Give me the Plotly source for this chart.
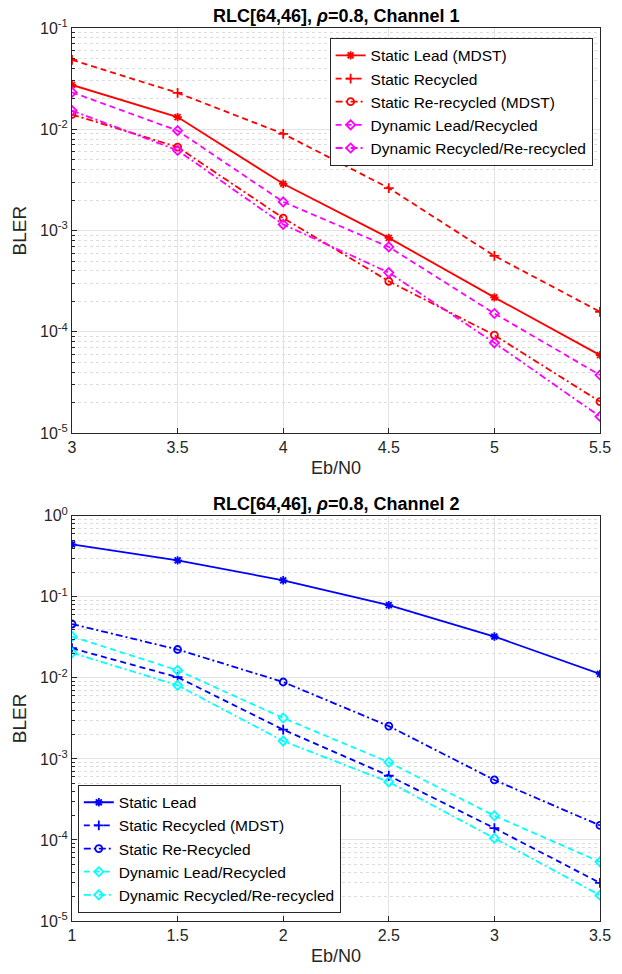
import plotly.graph_objects as go

# ---------------- data ----------------
x1 = [3, 3.5, 4, 4.5, 5, 5.5]
ch1_static_lead = [0.0274, 0.0132, 0.0029, 0.000848, 0.000219, 5.9e-5]
ch1_static_recycled = [0.0484, 0.0229, 0.00903, 0.00263, 0.000563, 0.000158]
ch1_static_rerecycled = [0.0140, 0.00668, 0.00133, 0.000316, 9.3e-5, 2.05e-5]
ch1_dyn_lead = [0.0232, 0.0097, 0.00192, 0.00069, 0.000152, 3.75e-5]
ch1_dyn_rerecycled = [0.0153, 0.0062, 0.00115, 0.000385, 7.8e-5, 1.46e-5]

x2 = [1, 1.5, 2, 2.5, 3, 3.5]
ch2_static_lead = [0.444, 0.282, 0.160, 0.079, 0.0324, 0.0112]
ch2_static_recycled = [0.0232, 0.0102, 0.0023, 0.00062, 0.00014, 2.95e-5]
ch2_static_rerecycled = [0.0462, 0.0224, 0.0089, 0.00254, 0.00055, 0.000151]
ch2_dyn_lead = [0.0324, 0.0124, 0.0032, 0.00091, 0.000199, 5.37e-5]
ch2_dyn_rerecycled = [0.0204, 0.0081, 0.00166, 0.00052, 0.000105, 2.08e-5]

names1 = ["Static Lead (MDST)", "Static Recycled", "Static Re-recycled (MDST)",
          "Dynamic Lead/Recycled", "Dynamic Recycled/Re-recycled"]
names2 = ["Static Lead", "Static Recycled (MDST)", "Static Re-Recycled",
          "Dynamic Lead/Recycled", "Dynamic Recycled/Re-recycled"]

x1_ticks = [3, 3.5, 4, 4.5, 5, 5.5]
x1_ticktext = ["3", "3.5", "4", "4.5", "5", "5.5"]
x2_ticks = [1, 1.5, 2, 2.5, 3, 3.5]
x2_ticktext = ["1", "1.5", "2", "2.5", "3", "3.5"]
y1_ticks = [1e-5, 1e-4, 1e-3, 1e-2, 1e-1]
y1_ticktext = ["10<sup>-5</sup>", "10<sup>-4</sup>", "10<sup>-3</sup>", "10<sup>-2</sup>", "10<sup>-1</sup>"]
y2_ticks = [1e-5, 1e-4, 1e-3, 1e-2, 1e-1, 1e0]
y2_ticktext = ["10<sup>-5</sup>", "10<sup>-4</sup>", "10<sup>-3</sup>", "10<sup>-2</sup>", "10<sup>-1</sup>", "10<sup>0</sup>"]

title1 = "<b>RLC[64,46], <i>ρ</i>=0.8, Channel 1</b>"
title2 = "<b>RLC[64,46], <i>ρ</i>=0.8, Channel 2</b>"

# ---------------- styles ----------------
DASH = "6px,4px"
DASHDOT = "7px,3px,2px,3px"
styles = [
    dict(dash="solid", symbol="asterisk-open"),
    dict(dash=DASH, symbol="cross-thin-open"),
    dict(dash=DASHDOT, symbol="circle-open"),
    dict(dash=DASH, symbol="diamond-open"),
    dict(dash=DASHDOT, symbol="diamond-open"),
]
colors1 = ["#FF0000", "#FF0000", "#FF0000", "#FF00FF", "#FF00FF"]
colors2 = ["#0000FF", "#0000FF", "#0000FF", "#00FFFF", "#00FFFF"]

fig = go.Figure()

series1 = [ch1_static_lead, ch1_static_recycled, ch1_static_rerecycled, ch1_dyn_lead, ch1_dyn_rerecycled]
series2 = [ch2_static_lead, ch2_static_recycled, ch2_static_rerecycled, ch2_dyn_lead, ch2_dyn_rerecycled]

for i, (ys, nm) in enumerate(zip(series1, names1)):
    st = styles[i]
    fig.add_trace(go.Scatter(
        x=x1, y=ys, name=nm, mode="lines+markers",
        line=dict(color=colors1[i], width=1.8, dash=st["dash"]),
        marker=dict(symbol=st["symbol"], size=7, color=colors1[i],
                    line=dict(color=colors1[i], width=1.8)),
        xaxis="x", yaxis="y", legend="legend"))

for i, (ys, nm) in enumerate(zip(series2, names2)):
    st = styles[i]
    fig.add_trace(go.Scatter(
        x=x2, y=ys, name=nm, mode="lines+markers",
        line=dict(color=colors2[i], width=1.8, dash=st["dash"]),
        marker=dict(symbol=st["symbol"], size=7, color=colors2[i],
                    line=dict(color=colors2[i], width=1.8)),
        xaxis="x2", yaxis="y2", legend="legend2"))

FONT = "Liberation Sans, Arial, Helvetica, sans-serif"
AXC = "#262626"
GRID = "#e3e3e3"
MINOR = "#dcdcdc"

common_x = dict(showline=True, linecolor=AXC, linewidth=1, mirror=True,
                ticks="inside", ticklen=5, tickcolor=AXC,
                showgrid=True, gridcolor=GRID, gridwidth=1, zeroline=False,
                tickfont=dict(size=16, color=AXC, family=FONT),
                title=dict(text="Eb/N0", font=dict(size=18, color=AXC, family=FONT), standoff=6))
common_y = dict(type="log", showline=True, linecolor=AXC, linewidth=1, mirror=True,
                ticks="inside", ticklen=5, tickcolor=AXC,
                showgrid=True, gridcolor=GRID, gridwidth=1, zeroline=False,
                tickfont=dict(size=16, color=AXC, family=FONT),
                minor=dict(dtick="D1", showgrid=True, gridcolor=MINOR, griddash="dot",
                           ticks="inside", ticklen=3, tickcolor=AXC),
                title=dict(text="BLER", font=dict(size=19, color=AXC, family=FONT), standoff=8))

top_bottom = (925 - 435) / 897

fig.update_layout(
    width=622, height=974,
    margin=dict(l=72, r=11, t=28, b=49),
    paper_bgcolor="white", plot_bgcolor="white",
    font=dict(family=FONT, color=AXC),
    xaxis=dict(common_x, domain=[0, 1], range=[3, 5.5], tickvals=x1_ticks, ticktext=x1_ticktext, anchor="y"),
    yaxis=dict(common_y, domain=[top_bottom, 1], range=[-5, -1], tickvals=y1_ticks, ticktext=y1_ticktext, anchor="x"),
    xaxis2=dict(common_x, domain=[0, 1], range=[1, 3.5], tickvals=x2_ticks, ticktext=x2_ticktext, anchor="y2"),
    yaxis2=dict(common_y, domain=[0, 1 - top_bottom], range=[-5, 0], tickvals=y2_ticks, ticktext=y2_ticktext, anchor="x2"),
    legend=dict(x=0.986, y=0.989, xanchor="right", yanchor="top",
                bgcolor="white", bordercolor=AXC, borderwidth=1,
                font=dict(size=15.5, color="#000000", family=FONT), tracegroupgap=0,
                itemwidth=30),
    legend2=dict(x=0.011, y=0.0093, xanchor="left", yanchor="bottom",
                 bgcolor="white", bordercolor=AXC, borderwidth=1,
                 font=dict(size=15.5, color="#000000", family=FONT), tracegroupgap=0,
                 itemwidth=30),
    showlegend=True,
    annotations=[
        dict(text=title1, x=0.5, y=1, xref="paper", yref="paper", xanchor="center", yanchor="bottom",
             yshift=0, showarrow=False, font=dict(size=18, color="#000000", family=FONT)),
        dict(text=title2, x=0.5, y=1 - top_bottom, xref="paper", yref="paper", xanchor="center", yanchor="bottom",
             yshift=0, showarrow=False, font=dict(size=18, color="#000000", family=FONT)),
    ],
)

fig.write_html("out.html")
